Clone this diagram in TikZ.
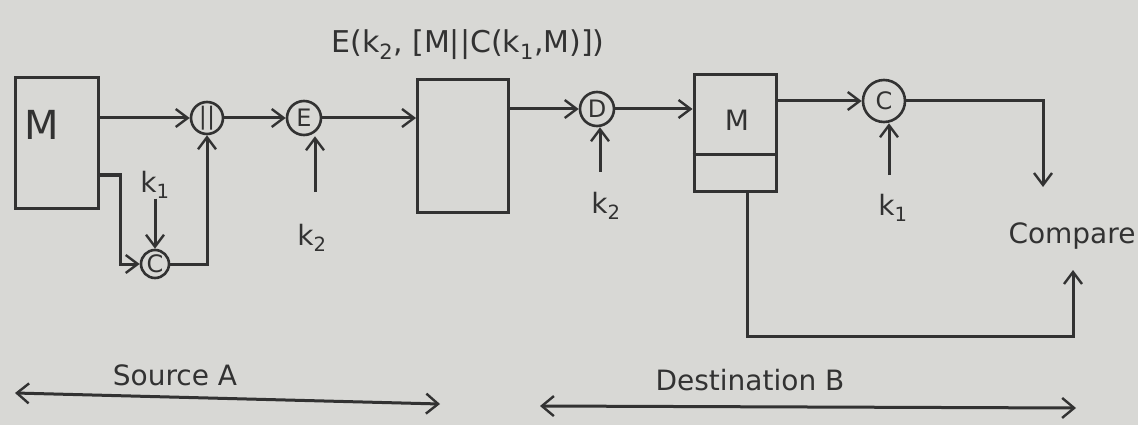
\documentclass[tikz,border=0pt]{standalone}
\usepackage{fontspec}
\setmainfont{DejaVu Sans}
\usetikzlibrary{arrows.meta}
\definecolor{paper}{RGB}{216,216,213}
\definecolor{ink}{RGB}{50,50,50}
\tikzset{
  wire/.style={draw=ink, line width=3pt, -{Straight Barb[length=12pt,width=18pt,line width=2.4pt]}},
  plain/.style={draw=ink, line width=3pt},
  dbl/.style={draw=ink, line width=3pt, {Straight Barb[length=12pt,width=20pt,line width=2.4pt]}-{Straight Barb[length=12pt,width=20pt,line width=2.4pt]}},
  blk/.style={draw=ink, line width=3pt, inner sep=0pt},
  op/.style={circle, draw=ink, line width=2.6pt, minimum size=32pt, inner sep=0pt, text=ink, font=\fontsize{24}{26}\selectfont},
  lbl/.style={text=ink, inner sep=0pt, font=\fontsize{28}{30}\selectfont},
}
\begin{document}
\begin{tikzpicture}[x=1pt,y=-1pt]
\fill[paper] (0,0) rectangle (1138,425);
\useasboundingbox (0,0) rectangle (1138,425);

% source side
\node[blk, minimum width=83pt, minimum height=130pt] (m1) at (57,143) {};
\node[lbl, font=\fontsize{40}{42}\selectfont] (m1t) at (42,125) {M};
\node[op] (cat) at (207,118) {||};
\node[op, minimum size=28pt] (c1) at (155,264) {C};
\node[lbl] (k1a) at (155,185) {k\textsubscript{1}};
\coordinate (m1b) at (98,175);
\coordinate (m1a) at (98,118);
\draw[wire] (m1a) -- (cat.west);
\draw[wire] (m1b) -- (120,175) |- (c1.west);
\draw[wire] (k1a.south) -- (c1.north);
\draw[wire] (c1.east) -| (cat.south);

\node[op, minimum size=34pt] (enc) at (304,118) {E};
\draw[wire] (cat.east) -- (enc.west);
\node[lbl] (k2a) at (312,238) {k\textsubscript{2}};
\coordinate (k2as) at (315,192);
\draw[wire] (k2as) -- (enc.south -| k2as);

% channel
\node[blk, minimum width=91pt, minimum height=132pt] (ch) at (463,146) {};
\node[lbl, font=\fontsize{30}{32}\selectfont] (ttl) at (468,45) {E(k\textsubscript{2}, [M||C(k\textsubscript{1},M)])};
\draw[wire] (enc.east) -- (ch.west |- enc.east);

\node[op, minimum size=34pt] (dec) at (597,109) {D};
\draw[wire] (ch.east |- dec.west) -- (dec.west);
\node[lbl] (k2b) at (606,206) {k\textsubscript{2}};
\coordinate (k2bs) at (600,172);
\draw[wire] (k2bs) -- (dec.south -| k2bs);

% destination
\node[blk, minimum width=82pt, minimum height=116pt] (m2) at (735,133) {};
\draw[plain] (m2.west |- 0,155) -- (m2.east |- 0,155);
\node[lbl] (m2t) at (737,120) {M};
\draw[wire] (dec.east) -- (m2.west |- dec.east);

\node[op, minimum size=42pt] (c2) at (884,101) {C};
\draw[wire] (m2.east |- c2.west) -- (c2.west);
\node[lbl] (k1b) at (893,208) {k\textsubscript{1}};
\coordinate (k1bs) at (889,175);
\draw[wire] (k1bs) -- (c2.south -| k1bs);

\node[lbl] (cmp) at (1072,236) {Compare};
\coordinate (cbend) at (1043,101);
\draw[wire] (c2.east) -- (cbend) -- ++(0,86);
\coordinate (m2low) at (747,336);
\draw[wire] (m2.south -| m2low) -- (m2low) -| (1073,270);

% bottom
\node[lbl] (src) at (175,375) {Source A};
\node[lbl] (dst) at (750,380) {Destination B};
\coordinate (sl) at (15,393);
\coordinate (sr) at (440,404);
\coordinate (dl) at (540,406);
\coordinate (dr) at (1076,408);
\draw[dbl] (sl) -- (sr);
\draw[dbl] (dl) -- (dr);
\end{tikzpicture}
\end{document}
